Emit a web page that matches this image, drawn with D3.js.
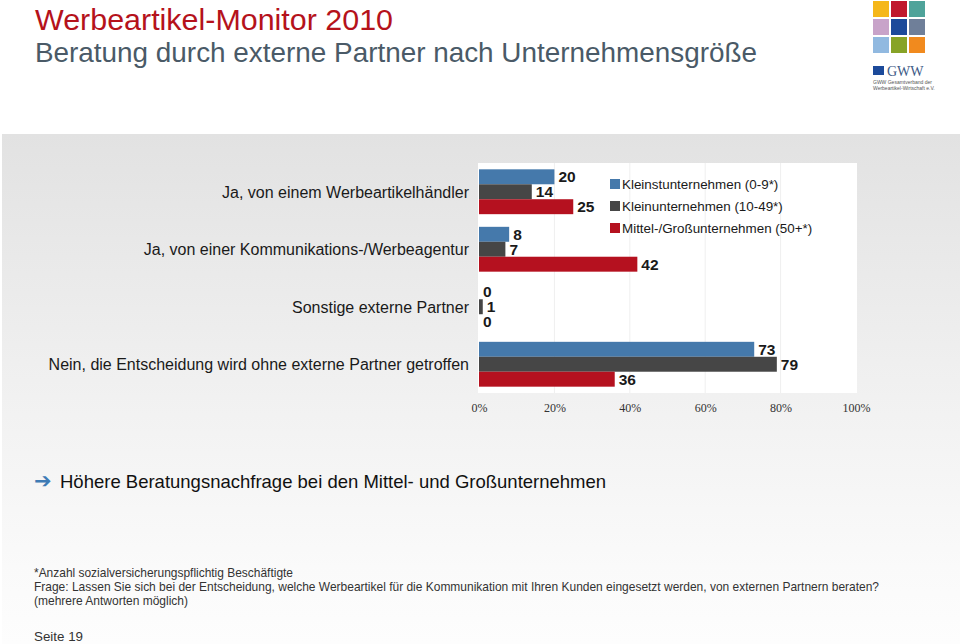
<!DOCTYPE html>
<html><head><meta charset="utf-8">
<script src="https://cdn.jsdelivr.net/npm/d3@7"></script>
<style>
html,body{margin:0;padding:0;background:#fff;}
svg{display:block;}
</style></head>
<body>
<script>
const categories = [
  "Ja, von einem Werbeartikelhändler",
  "Ja, von einer Kommunikations-/Werbeagentur",
  "Sonstige externe Partner",
  "Nein, die Entscheidung wird ohne externe Partner getroffen"
];
const seriesNames = ["Kleinstunternehmen (0-9*)", "Kleinunternehmen (10-49*)", "Mittel-/Großunternehmen (50+*)"];
const kleinst = [20, 8, 0, 73];
const klein = [14, 7, 1, 79];
const mittel = [25, 42, 0, 36];
const seriesColors = ["#4579ab", "#464646", "#b5111f"];
const tickValues = [0, 20, 40, 60, 80, 100];
const logoColors = ["#f5b71a", "#c0182d", "#4fa39a", "#c8a3c9", "#1c4a9a", "#6f7f99", "#91b9e0", "#87a327", "#f18a1e"];

const W = 960, H = 644;
const svg = d3.select("body").append("svg").attr("width", W).attr("height", H);
const defs = svg.append("defs");
const grad = defs.append("linearGradient").attr("id", "bg").attr("x1", 0).attr("y1", 0).attr("x2", 0).attr("y2", 1);
grad.append("stop").attr("offset", "0%").attr("stop-color", "#e2e2e2");
grad.append("stop").attr("offset", "55%").attr("stop-color", "#f2f2f2");
grad.append("stop").attr("offset", "85%").attr("stop-color", "#fafafa");
grad.append("stop").attr("offset", "100%").attr("stop-color", "#fdfdfd");

svg.append("rect").attr("x", 0).attr("y", 0).attr("width", W).attr("height", H).attr("fill", "#fff");
svg.append("rect").attr("x", 2).attr("y", 134).attr("width", W - 2).attr("height", H - 134).attr("fill", "url(#bg)");

// Title
svg.append("text").attr("x", 35).attr("y", 30).attr("font-family", "Liberation Sans, Arial, sans-serif")
  .attr("font-size", 29).attr("fill", "#b5121b")
  .attr("textLength", 358).attr("lengthAdjust", "spacingAndGlyphs").text("Werbeartikel-Monitor 2010");
svg.append("text").attr("x", 35).attr("y", 62).attr("font-family", "Liberation Sans, Arial, sans-serif")
  .attr("font-size", 27.5).attr("fill", "#4a5a67")
  .attr("textLength", 722).attr("lengthAdjust", "spacingAndGlyphs").text("Beratung durch externe Partner nach Unternehmensgröße");

// Logo
const logo = svg.append("g");
logo.selectAll("rect.sq").data(logoColors).join("rect")
  .attr("x", (d, i) => 873 + (i % 3) * 18)
  .attr("y", (d, i) => 1 + Math.floor(i / 3) * 18)
  .attr("width", 16).attr("height", 16).attr("fill", d => d);
logo.append("rect").attr("x", 873).attr("y", 66).attr("width", 11).attr("height", 9).attr("fill", "#1c4a9a");
logo.append("text").attr("x", 887).attr("y", 76).attr("font-family", "Liberation Serif, Times New Roman, serif")
  .attr("font-size", 14).attr("fill", "#3d5a86").text("GWW");
logo.append("text").attr("x", 873).attr("y", 84).attr("font-family", "Liberation Sans, Arial, sans-serif")
  .attr("font-size", 5).attr("fill", "#555").text("GWW Gesamtverband der");
logo.append("text").attr("x", 873).attr("y", 90).attr("font-family", "Liberation Sans, Arial, sans-serif")
  .attr("font-size", 5).attr("fill", "#555").text("Werbeartikel-Wirtschaft e.V.");

// Chart
const plot = {x0: 479, x1: 856, y0: 163, y1: 393};
svg.append("rect").attr("x", plot.x0 - 1).attr("y", plot.y0).attr("width", plot.x1 - plot.x0 + 2)
  .attr("height", plot.y1 - plot.y0).attr("fill", "#fff");

const x = d3.scaleLinear().domain([0, 100]).range([plot.x0, plot.x1]);
const y0 = d3.scaleBand().domain(categories).range([plot.y0, plot.y1]).paddingInner(0.22).paddingOuter(0.11);
const y1 = d3.scaleBand().domain(seriesNames).range([0, y0.bandwidth()]).padding(0);

// gridlines
svg.append("g").selectAll("line").data(tickValues.slice(1, -1)).join("line")
  .attr("x1", d => x(d)).attr("x2", d => x(d)).attr("y1", plot.y0).attr("y2", plot.y1)
  .attr("stroke", "#efefef").attr("stroke-width", 1);

const valuesBySeries = [kleinst, klein, mittel];
const rows = [];
categories.forEach((c, ci) => {
  seriesNames.forEach((s, si) => rows.push({cat: c, ser: s, si, v: valuesBySeries[si][ci]}));
});

svg.append("g").selectAll("rect").data(rows).join("rect")
  .attr("x", x(0))
  .attr("y", d => y0(d.cat) + y1(d.ser))
  .attr("width", d => x(d.v) - x(0))
  .attr("height", y1.bandwidth())
  .attr("fill", d => seriesColors[d.si]);

svg.append("g").selectAll("text").data(rows).join("text")
  .attr("x", d => x(d.v) + 4)
  .attr("y", d => y0(d.cat) + y1(d.ser) + y1.bandwidth() / 2)
  .attr("dy", "0.36em")
  .attr("font-family", "Liberation Sans, Arial, sans-serif")
  .attr("font-weight", "bold").attr("font-size", 15.5).attr("fill", "#1a1a1a")
  .text(d => d.v);

// category labels
svg.append("g").selectAll("text").data(categories).join("text")
  .attr("x", 469).attr("y", d => y0(d) + y0.bandwidth() / 2).attr("dy", "0.36em")
  .attr("text-anchor", "end").attr("font-family", "Liberation Sans, Arial, sans-serif")
  .attr("font-size", 16).attr("fill", "#1a1a1a").text(d => d);

// x axis
const xAxis = d3.axisBottom(x).tickValues(tickValues).tickFormat(d => d + "%").tickSize(0).tickPadding(0);
const ax = svg.append("g").attr("transform", `translate(0,${plot.y1 + 10})`).call(xAxis);
ax.select(".domain").remove();
ax.selectAll("text").attr("font-family", "Liberation Serif, Times New Roman, serif")
  .attr("font-size", 12).attr("fill", "#333").attr("dy", "0.71em");

// legend
const leg = svg.append("g").attr("transform", "translate(610,179)");
seriesNames.forEach((s, i) => {
  leg.append("rect").attr("x", 0).attr("y", i * 22).attr("width", 10).attr("height", 10).attr("fill", seriesColors[i]);
  leg.append("text").attr("x", 12).attr("y", i * 22 + 5).attr("dy", "0.36em")
    .attr("font-family", "Liberation Sans, Arial, sans-serif").attr("font-size", 13.4).attr("fill", "#1a1a1a").text(s);
});

// conclusion
svg.append("text").attr("x", 34).attr("y", 488).attr("font-family", "DejaVu Sans, sans-serif")
  .attr("font-size", 21).attr("font-weight", "bold").attr("fill", "#3e7bb5").text("➔");
svg.append("text").attr("x", 60).attr("y", 488).attr("font-family", "Liberation Sans, Arial, sans-serif")
  .attr("font-size", 18.5).attr("fill", "#111").text("Höhere Beratungsnachfrage bei den Mittel- und Großunternehmen");

// footer
const foot = [
  {t: "*Anzahl sozialversicherungspflichtig Beschäftigte", y: 577, w: 259},
  {t: "Frage: Lassen Sie sich bei der Entscheidung, welche Werbeartikel für die Kommunikation mit Ihren Kunden eingesetzt werden, von externen Partnern beraten?", y: 591, w: 845},
  {t: "(mehrere Antworten möglich)", y: 605, w: 154},
  {t: "Seite 19", y: 641, w: 49}
];
svg.append("g").selectAll("text").data(foot).join("text")
  .attr("x", 34).attr("y", d => d.y)
  .attr("font-family", "Liberation Sans Narrow, Arial Narrow, Liberation Sans, sans-serif")
  .attr("font-size", 13).attr("fill", "#333")
  .attr("textLength", d => d.w).attr("lengthAdjust", "spacingAndGlyphs")
  .text(d => d.t);
</script>
</body></html>
